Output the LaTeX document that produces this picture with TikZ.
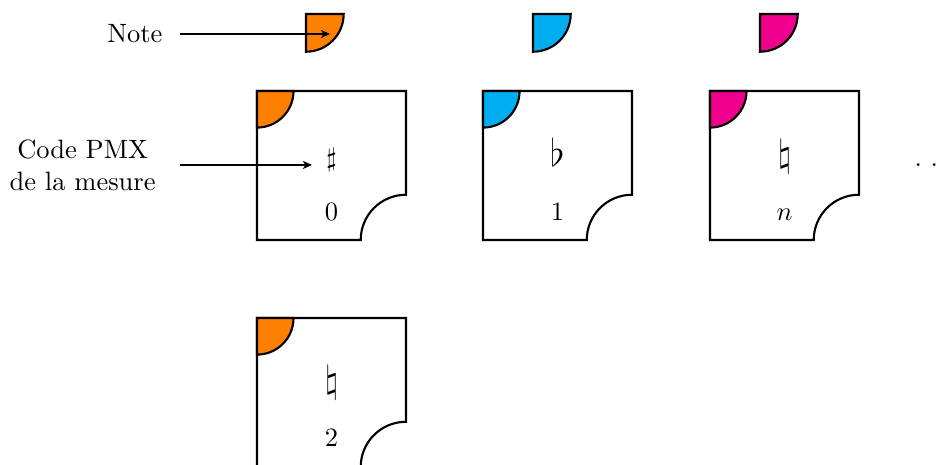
\documentclass[tikz,border=0pt]{standalone}
\usetikzlibrary{arrows.meta}
\definecolor{nOrange}{RGB}{255,128,0}
\definecolor{nCyan}{RGB}{0,174,239}
\definecolor{nMagenta}{RGB}{236,0,140}
\tikzset{
  boxline/.style={draw=black, thick, fill=white},
  cornerfill/.style={draw=black, thick, fill=#1},
  conn/.style={-{Stealth[length=3.4pt, width=3pt, inset=0.9pt]}, thick},
  sym/.style={anchor=base, inner sep=0pt},
  bigsym/.style={anchor=base, inner sep=0pt, font=\Large}
}
\begin{document}
\begin{tikzpicture}
\useasboundingbox (0,0) rectangle (12.573,-6.167);
% ---- note shapes (top row)
\filldraw[cornerfill=nOrange]  (4.058,-0.186) -- ++(0.5,0) arc[start angle=0, end angle=-90, radius=0.5] -- cycle;
\filldraw[cornerfill=nCyan]    (7.069,-0.186) -- ++(0.5,0) arc[start angle=0, end angle=-90, radius=0.5] -- cycle;
\filldraw[cornerfill=nMagenta] (10.080,-0.186) -- ++(0.5,0) arc[start angle=0, end angle=-90, radius=0.5] -- cycle;
\coordinate (notetip) at (4.377,-0.451);
% ---- measure boxes
\foreach \x/\y/\c in {3.408/-1.207/nOrange, 6.406/-1.207/nCyan, 9.416/-1.207/nMagenta, 3.408/-4.218/nOrange}{
  \draw[boxline] (\x,\y) -- ++(1.976,0) -- ++(0,-1.376)
     arc[start angle=90, end angle=180, radius=0.6] -- ++(-1.376,0) -- cycle;
  \filldraw[cornerfill=\c] (\x,\y) -- ++(0.485,0) arc[start angle=0, end angle=-90, radius=0.485] -- cycle;
}
% ---- symbols and numbers
\node[sym] (s0) at (4.397,-2.202) {$\sharp$};
\node[sym] (d0) at (4.397,-2.918) {$0$};
\node[bigsym] (s1) at (7.394,-2.202) {$\flat$};
\node[sym] (d1) at (7.394,-2.918) {$1$};
\node[bigsym] (sn) at (10.405,-2.202) {$\natural$};
\node[sym] (dn) at (10.405,-2.918) {$n$};
\node[bigsym] (s2) at (4.397,-5.212) {$\natural$};
\node[sym] (d2) at (4.397,-5.928) {$2$};
\node[anchor=base west, inner sep=0pt] (dots) at (12.122,-2.202) {.\ .\ .};
% ---- labels and arrows
\node[anchor=east, inner xsep=6.4pt, inner ysep=0pt] (note) at (2.387,-0.451) {Note};
\node[anchor=east, inner xsep=9pt, align=center] (code) at (2.387,-2.188) {Code PMX\\de la mesure};
\coordinate (codetip) at (4.138,-2.188);
\draw[conn] (note.east) -- (notetip);
\draw[conn] (code.east) -- (codetip);
\end{tikzpicture}
\end{document}
